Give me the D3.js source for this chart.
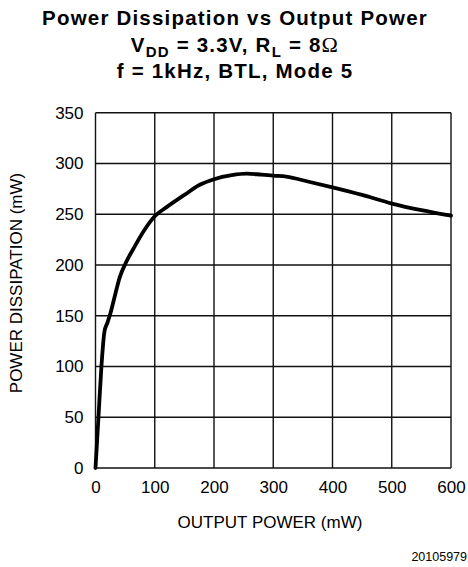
<!DOCTYPE html>
<html>
<head>
<meta charset="utf-8">
<script src="https://cdn.jsdelivr.net/npm/d3@7"></script>
<style>
html,body{margin:0;padding:0;background:#fff;}
svg{display:block;}
text{font-family:"Liberation Sans",Arial,Helvetica,sans-serif;fill:#000;}
</style>
</head>
<body>
<svg id="chart" width="468" height="567"></svg>
<script>
// Data
const outputPower = [0, 5, 10, 15, 20, 25, 32, 41, 51, 64, 82, 100, 120, 150, 176, 200, 230, 255, 280, 300, 322, 360, 400, 450, 500, 550, 600];
const powerDissipation = [0, 50, 100, 134, 143, 152, 168, 188, 202, 216, 234, 248, 257, 269, 279, 284.5, 288.5, 290, 289, 288, 287, 282, 276.5, 269, 260.5, 254, 248.5];
const xTicks = [0, 100, 200, 300, 400, 500, 600];
const yTicks = [0, 50, 100, 150, 200, 250, 300, 350];
const titleLine1 = "Power Dissipation vs Output Power";
const titleLine3 = "f = 1kHz, BTL, Mode 5";
const xLabel = "OUTPUT POWER (mW)";
const yLabel = "POWER DISSIPATION (mW)";
const footnote = "20105979";

const svg = d3.select("#chart");
const m = {left: 95.5, right: 451, top: 112.7, bottom: 468};
const x = d3.scaleLinear().domain([0, 600]).range([m.left, m.right]);
const y = d3.scaleLinear().domain([0, 350]).range([m.bottom, m.top]);

// Title
const title = svg.append("g").attr("text-anchor", "middle").style("font-weight", "bold")
  .style("font-size", "20.5px").style("letter-spacing", "1.2px");
title.append("text").attr("x", 235).attr("y", 25).text(titleLine1);
const t2 = title.append("text").attr("x", 235).attr("y", 51.5);
t2.append("tspan").text("V");
t2.append("tspan").attr("dy", 5).style("font-size", "15px").text("DD");
t2.append("tspan").attr("dy", -5).text(" = 3.3V, R");
t2.append("tspan").attr("dy", 5).style("font-size", "15px").text("L");
t2.append("tspan").attr("dy", -5).text(" = 8");
t2.append("tspan").style("font-family", "'Liberation Serif','Times New Roman',serif").style("font-weight", "normal").style("font-size", "22px").text("Ω");
title.append("text").attr("x", 235).attr("y", 78).text(titleLine3);

// Grid
const grid = svg.append("g").attr("stroke", "#111").attr("stroke-width", 1.4).attr("fill", "none");
grid.selectAll("line.v").data(xTicks).join("line")
  .attr("x1", d => x(d)).attr("x2", d => x(d)).attr("y1", m.top).attr("y2", m.bottom);
grid.selectAll("line.h").data(yTicks).join("line")
  .attr("x1", m.left).attr("x2", m.right).attr("y1", d => y(d)).attr("y2", d => y(d));

// Tick labels via d3 axes
const xAxis = svg.append("g").attr("transform", `translate(0,${m.bottom})`)
  .call(d3.axisBottom(x).tickValues(xTicks).tickSize(0).tickPadding(13));
xAxis.select(".domain").remove();
xAxis.selectAll("text").style("font-size", "17px").style("font-family", "'Liberation Sans',Arial,sans-serif").attr("fill", "#000");

const yAxis = svg.append("g").attr("transform", `translate(${m.left},0)`)
  .call(d3.axisLeft(y).tickValues(yTicks).tickSize(0).tickPadding(12));
yAxis.select(".domain").remove();
yAxis.selectAll("text").style("font-size", "17px").style("font-family", "'Liberation Sans',Arial,sans-serif").attr("fill", "#000");

// Curve
const line = d3.line().x((d, i) => x(outputPower[i])).y(d => y(d)).curve(d3.curveMonotoneX);
svg.append("path").datum(powerDissipation)
  .attr("d", line).attr("fill", "none").attr("stroke", "#000")
  .attr("stroke-width", 3.8).attr("stroke-linejoin", "round").attr("stroke-linecap", "round");

// Axis titles
svg.append("text").attr("x", 270).attr("y", 528).attr("text-anchor", "middle").style("font-size", "17px").text(xLabel);
svg.append("text").attr("transform", "translate(22,283) rotate(-90)").attr("text-anchor", "middle").style("font-size", "17px").text(yLabel);

// Footnote
svg.append("text").attr("x", 467).attr("y", 561).attr("text-anchor", "end").style("font-size", "12.5px").text(footnote);
</script>
</body>
</html>
